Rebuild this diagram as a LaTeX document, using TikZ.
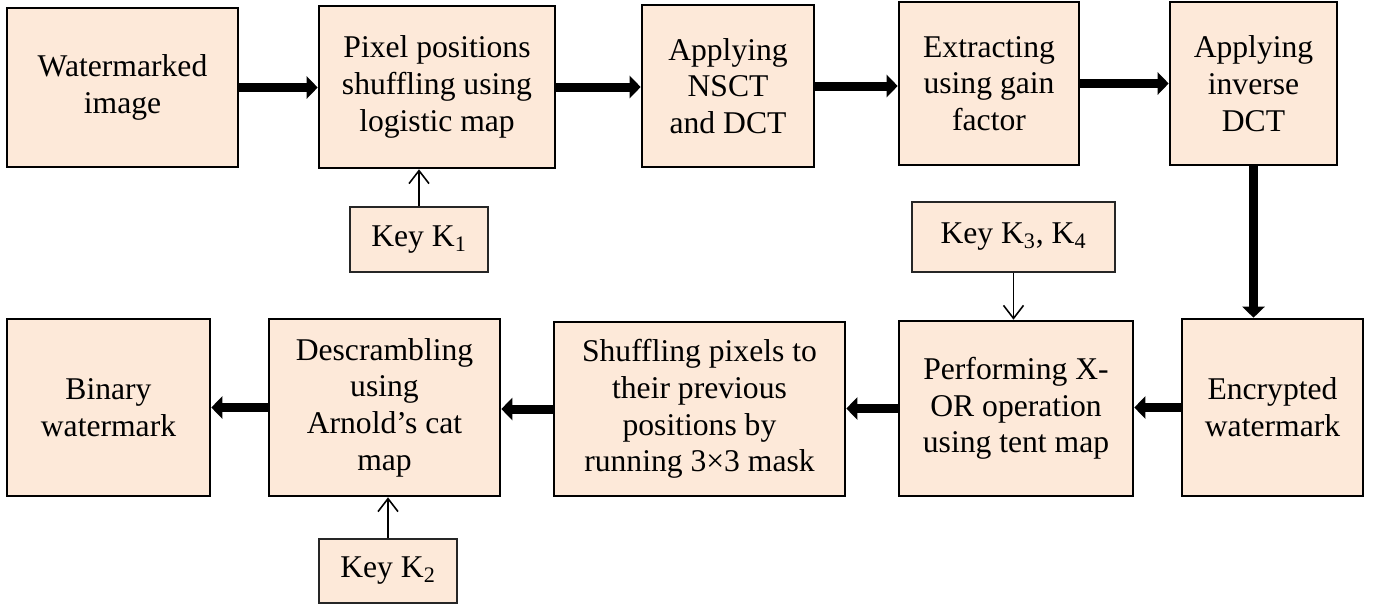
\documentclass[tikz,border=0pt]{standalone}
\usepackage{fontspec}
\setmainfont{Liberation Serif}
\usetikzlibrary{arrows.meta}
\definecolor{peach}{RGB}{253,233,217}
\begin{document}
\begin{tikzpicture}[
            stagebox/.style={draw, line width=1.5pt, fill=peach, align=center,
                font=\fontsize{18pt}{20.9pt}\selectfont, inner sep=2pt},
            keybox/.style={draw=black!85, line width=0.7pt, fill=peach,
                font=\fontsize{18pt}{20.9pt}\selectfont},
            flow/.style={line width=0.18cm, -{Triangle[length=0.22cm,width=0.44cm]}},
            keyflow/.style={line width=0.9pt, -{Straight Barb[length=0.26cm,width=0.4cm]}}
        ]
            \useasboundingbox (0,0) rectangle (27.48,-12.12);
            \node[stagebox, minimum width=4.62cm, minimum height=3.18cm] (wmimg) at (2.45,-1.75) {Watermarked\\image};
            \node[stagebox, minimum width=4.72cm, minimum height=3.24cm] (logshuf) at (8.74,-1.74) {Pixel positions\\shuffling using\\logistic map};
            \node[stagebox, minimum width=3.44cm, minimum height=3.24cm] (nsct) at (14.56,-1.72) {Applying\\NSCT\\and DCT};
            \node[stagebox, minimum width=3.60cm, minimum height=3.26cm] (extract) at (19.78,-1.67) {Extracting\\using gain\\factor};
            \node[stagebox, minimum width=3.34cm, minimum height=3.26cm] (idct) at (25.07,-1.67) {Applying\\inverse\\DCT};
            \node[keybox, minimum width=2.76cm, minimum height=1.30cm] (keyone) at (8.38,-4.79) {Key K\textsubscript{1}};
            \node[keybox, minimum width=4.06cm, minimum height=1.40cm] (keythree) at (20.27,-4.74) {Key K\textsubscript{3}, K\textsubscript{4}};
            \node[stagebox, minimum width=3.62cm, minimum height=3.54cm] (encwm) at (25.45,-8.15) {Encrypted\\watermark};
            \node[stagebox, minimum width=4.68cm, minimum height=3.50cm] (xorop) at (20.32,-8.17) {Performing X-\\OR operation\\using tent map};
            \node[stagebox, minimum width=5.82cm, minimum height=3.48cm] (unshuf) at (13.99,-8.18) {Shuffling pixels to\\their previous\\positions by\\running 3×3 mask};
            \node[stagebox, minimum width=4.62cm, minimum height=3.54cm] (arnold) at (7.69,-8.15) {Descrambling\\using\\Arnold’s cat\\map};
            \node[stagebox, minimum width=4.06cm, minimum height=3.54cm] (binwm) at (2.17,-8.15) {Binary\\watermark};
            \node[keybox, minimum width=2.76cm, minimum height=1.28cm] (keytwo) at (7.76,-11.42) {Key K\textsubscript{2}};
            \draw[flow] (wmimg.east) -- (wmimg.east -| logshuf.west);
            \draw[flow] (logshuf.east) -- (logshuf.east -| nsct.west);
            \draw[flow] (nsct.east) -- (nsct.east -| extract.west);
            \draw[flow] (extract.east) -- (extract.east -| idct.west);
            \draw[flow] (idct.south) -- (idct.south |- encwm.north);
            \draw[flow] (encwm.west) -- (encwm.west -| xorop.east);
            \draw[flow] (xorop.west) -- (xorop.west -| unshuf.east);
            \draw[flow] (unshuf.west) -- (unshuf.west -| arnold.east);
            \draw[flow] (arnold.west) -- (arnold.west -| binwm.east);
            \draw[keyflow] (keyone.north) -- (keyone.north |- logshuf.south);
            \draw[keyflow] (keythree.south) -- (keythree.south |- xorop.north);
            \draw[keyflow] (keytwo.north) -- (keytwo.north |- arnold.south);
        \end{tikzpicture}
\end{document}
